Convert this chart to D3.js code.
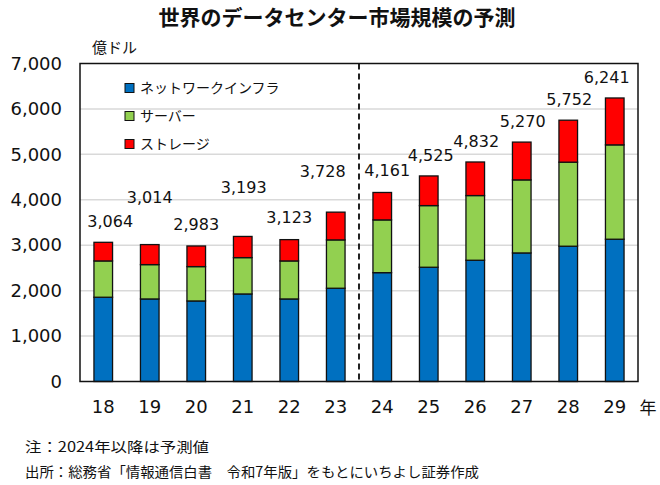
<!DOCTYPE html>
<html><head><meta charset="utf-8">
<script src="https://cdn.jsdelivr.net/npm/d3@7"></script>
<style>
html,body{margin:0;padding:0;background:#fff;}
svg{display:block;}
</style>
</head><body>
<svg id="c" width="660" height="485"></svg>
<script>
// ---- data ----
const years = ["18","19","20","21","22","23","24","25","26","27","28","29"];
const network = [1855,1817,1773,1927,1817,2053,2396,2515,2669,2830,2978,3132];
const server  = [ 799, 756, 756, 800, 837,1064,1161,1357,1424,1608,1850,2077];
const storage = [ 410, 441, 454, 466, 469, 611, 604, 653, 739, 832, 924,1032];
const totals  = [3064,3014,2983,3193,3123,3728,4161,4525,4832,5270,5752,6241];
const totalLabels = ["3,064","3,014","2,983","3,193","3,123","3,728","4,161","4,525","4,832","5,270","5,752","6,241"];
const seriesNames = ["ネットワークインフラ","サーバー","ストレージ"];
const yTicks = [0,1000,2000,3000,4000,5000,6000,7000];
const titleText = "世界のデータセンター市場規模の予測";
const unitText = "億ドル";
const yearUnit = "年";
const note1 = "注：2024年以降は予測値";
const note2 = "出所：総務省「情報通信白書　令和7年版」をもとにいちよし証券作成";
const forecastStart = "24";

// ---- layout / style ----
const colors = ["#0070C0","#92D050","#FF0000"];
const labelOffsets = [[7,-21],[0,-47],[0,-22],[1,-49],[0,-22],[-13,-41],[5,-22],[2,-21],[1,-21],[1,-21],[1,-21],[-8,-21]];
const L = 80, R = 638, T = 63.5, B = 381.5;
const numFont = "'DejaVu Sans', Verdana, sans-serif";
const jpFont = "'Noto Sans CJK JP', sans-serif";

const svg = d3.select("#c");
const x = d3.scaleBand().domain(years).range([L,R]).paddingInner(0.6).paddingOuter(0.3);
const y = d3.scaleLinear().domain([0,7000]).range([B,T]);

// gridlines
svg.append("g").selectAll("line").data(yTicks.filter(d=>d>0 && d<7000)).join("line")
  .attr("x1",L).attr("x2",R).attr("y1",d=>y(d)).attr("y2",d=>y(d))
  .attr("stroke","#d9d9d9").attr("stroke-width",1.5);

// stacked bars
const rows = years.map((yr,i)=>({year:yr, network:network[i], server:server[i], storage:storage[i]}));
const stack = d3.stack().keys(["network","server","storage"])(rows);
svg.append("g").selectAll("g").data(stack).join("g")
  .attr("fill",(d,i)=>colors[i])
  .selectAll("rect").data(d=>d).join("rect")
  .attr("x",d=>x(d.data.year)).attr("width",x.bandwidth())
  .attr("y",d=>y(d[1])).attr("height",d=>y(d[0])-y(d[1]))
  .attr("stroke","#111").attr("stroke-width",1.3);

// forecast divider
const divX = x(forecastStart) - x.step()*x.paddingInner()/2;
svg.append("line").attr("x1",divX).attr("x2",divX).attr("y1",T).attr("y2",B)
  .attr("stroke","#222").attr("stroke-width",2).attr("stroke-dasharray","6,4");

// plot border
svg.append("rect").attr("x",L).attr("y",T).attr("width",R-L).attr("height",B-T)
  .attr("fill","none").attr("stroke","#111").attr("stroke-width",1.5);

// y axis
const yAxis = d3.axisLeft(y).tickValues(yTicks).tickSize(0).tickPadding(18).tickFormat(d3.format(","));
const gy = svg.append("g").attr("transform",`translate(${L},0)`).call(yAxis);
gy.select(".domain").remove();
gy.selectAll("text").attr("font-family",numFont).attr("font-size",18).attr("fill","#111");

// x axis
const xAxis = d3.axisBottom(x).tickSize(0).tickPadding(19);
const gx = svg.append("g").attr("transform",`translate(0,${B})`).call(xAxis);
gx.select(".domain").remove();
gx.selectAll("text").attr("font-family",numFont).attr("font-size",18).attr("fill","#111");

// total labels
svg.append("g").selectAll("text").data(years).join("text")
  .attr("x",(d,i)=>x(d)+x.bandwidth()/2+labelOffsets[i][0])
  .attr("y",(d,i)=>y(totals[i])+labelOffsets[i][1])
  .attr("dy","0.35em").attr("text-anchor","middle")
  .attr("font-family",numFont).attr("font-size",16).attr("fill","#111")
  .text((d,i)=>totalLabels[i]);

// legend
const lg = svg.append("g");
seriesNames.forEach((n,i)=>{
  const cy = 88 + i*28;
  lg.append("rect").attr("x",125).attr("y",cy-4.5).attr("width",9).attr("height",9)
    .attr("fill",colors[i]).attr("stroke","#111").attr("stroke-width",1);
  lg.append("text").attr("x",140).attr("y",cy).attr("dy","0.35em")
    .attr("font-family",jpFont).attr("font-size",14).attr("fill","#111").text(n);
});

// title & units
svg.append("text").attr("x",337).attr("y",18).attr("dy","0.35em").attr("text-anchor","middle")
  .attr("font-family",jpFont).attr("font-weight","bold").attr("font-size",21).attr("fill","#111").text(titleText);
svg.append("text").attr("x",92).attr("y",48).attr("dy","0.35em")
  .attr("font-family",jpFont).attr("font-size",15).attr("fill","#111").text(unitText);
svg.append("text").attr("x",648).attr("y",B+27).attr("dy","0.35em").attr("text-anchor","middle")
  .attr("font-family",jpFont).attr("font-size",17).attr("fill","#111").text(yearUnit);

// notes
svg.append("text").attr("x",25).attr("y",447).attr("dy","0.35em")
  .attr("font-family",jpFont).attr("font-size",14).attr("fill","#111")
  .attr("textLength",184).attr("lengthAdjust","spacingAndGlyphs").text(note1);
svg.append("text").attr("x",25).attr("y",472).attr("dy","0.35em")
  .attr("font-family",jpFont).attr("font-size",14).attr("fill","#111")
  .attr("textLength",454).attr("lengthAdjust","spacingAndGlyphs").text(note2);
</script>
</body></html>
